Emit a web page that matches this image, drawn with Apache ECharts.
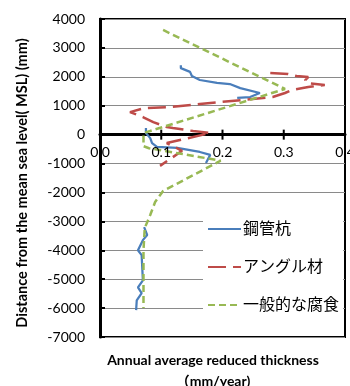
<!DOCTYPE html>
<html><head><meta charset="utf-8">
<script src="https://cdn.jsdelivr.net/npm/echarts@6/dist/echarts.min.js"></script>
<style>html,body{margin:0;padding:0;background:#fff}#c{width:350px;height:386px}</style>
</head><body><div id="c"></div>
<script>
var seriesNames = ['鋼管杭', 'アングル材', '一般的な腐食'];
var xTicks = [0, 0.1, 0.2, 0.3, 0.4];
var yTicks = [-7000, -6000, -5000, -4000, -3000, -2000, -1000, 0, 1000, 2000, 3000, 4000];

// 鋼管杭 (steel pipe pile): thickness (mm/year) and depth (mm); null = gap
var pileThickness = [0.132, 0.132, 0.147, 0.150, 0.163, 0.191, 0.212, 0.229, 0.261, 0.245, 0.224, null,
  0.075, 0.075, 0.082, 0.085, 0.093, 0.126, 0.163, 0.180, 0.173, null,
  0.072, 0.077, 0.070, 0.062, 0.068, 0.070, 0.062, 0.068, 0.060, 0.059];
var pileDepth = [2400, 2300, 2170, 2030, 1890, 1790, 1750, 1610, 1440, 1300, 1270, null,
  230, 55, -120, -290, -420, -460, -600, -700, -980, null,
  -3200, -3470, -3650, -4000, -4170, -5040, -5280, -5480, -5730, -6070];

// アングル材 (angle member)
var angleThickness = [0.278, 0.307, 0.321, 0.340, 0.335, 0.338, 0.367, 0.340, 0.313, 0.302, 0.282, 0.266,
  0.163, 0.114, 0.073, 0.049, 0.070, 0.087, 0.109, 0.119, 0.152, 0.180, 0.109, 0.134, 0.098];
var angleDepth = [2130, 2095, 2028, 1993, 1889, 1785, 1716, 1647, 1543, 1440, 1301, 1266,
  1059, 955, 920, 780, 609, 435, 263, 228, 125, 55, -290, -560, -1080];

// 一般的な腐食 (general corrosion)
var generalThickness = [0.103, 0.302, 0.071, 0.071, 0.080, 0.197, 0.103, 0.090, 0.082, 0.073, 0.071, 0.071];
var generalDepth = [3620, 1580, 55, -400, -470, -900, -1950, -2330, -2780, -3230, -4000, -6000];

function pairs(xs, ys) {
  var out = [];
  for (var i = 0; i < xs.length; i++) {
    out.push(xs[i] == null ? ['-', '-'] : [xs[i], ys[i]]);
  }
  return out;
}

var chart = echarts.init(document.getElementById('c'), null, {renderer: 'canvas'});
var FONT = 'Lato, "Noto Sans CJK JP", sans-serif';
var xMin = xTicks[0], xMax = xTicks[xTicks.length - 1];
var yMin = yTicks[0], yMax = yTicks[yTicks.length - 1];

chart.setOption({
  animation: false,
  backgroundColor: '#fff',
  textStyle: {fontFamily: FONT},
  grid: {left: 100, right: 5, top: 19, bottom: 49, show: true, borderColor: '#000', borderWidth: 2, containLabel: false},
  xAxis: {
    type: 'value', min: xMin, max: xMax, interval: 0.1,
    axisLine: {show: true, onZero: true, lineStyle: {color: '#000', width: 3}},
    axisTick: {show: false},
    axisLabel: {show: false},
    splitLine: {show: false}
  },
  yAxis: {
    type: 'value', min: yMin, max: yMax, interval: 1000,
    axisLine: {show: true, onZero: false, lineStyle: {color: '#000', width: 3}},
    axisTick: {show: true, inside: true, length: 5, lineStyle: {color: '#000', width: 2}},
    axisLabel: {margin: 15, color: '#000', fontSize: 14, fontFamily: FONT,
      formatter: function (v) { return String(v); }},
    splitLine: {show: true, lineStyle: {color: '#8a8a8a', width: 1}}
  },
  legend: {
    orient: 'vertical', left: 203, top: 213,
    backgroundColor: '#fff', padding: [8, 4, 10, 4],
    itemWidth: 33, itemHeight: 14, itemGap: 22,
    itemStyle: {opacity: 0},
    textStyle: {fontSize: 16, color: '#000', fontFamily: FONT, padding: [0, 0, 0, -3]},
    data: seriesNames
  },
  series: [
    {name: seriesNames[0], type: 'line', symbol: 'none', z: 2,
     lineStyle: {color: '#4A7EBB', width: 2.25, type: 'solid'}, itemStyle: {color: '#4A7EBB'},
     data: pairs(pileThickness, pileDepth)},
    {name: seriesNames[1], type: 'line', symbol: 'none', z: 3,
     lineStyle: {color: '#BE4B48', width: 2.5, type: [18, 7]}, itemStyle: {color: '#BE4B48'},
     data: pairs(angleThickness, angleDepth)},
    {name: seriesNames[2], type: 'line', symbol: 'none', z: 4,
     lineStyle: {color: '#98B954', width: 2.5, type: [7, 4]}, itemStyle: {color: '#98B954'},
     data: pairs(generalThickness, generalDepth)}
  ]
});

// titles, and the crossing ticks + labels of the x axis at depth 0
var gfx = [
  {type: 'text', x: 22, y: 183, rotation: Math.PI / 2,
   style: {text: 'Distance from the mean sea level( MSL) (mm)', font: 'bold 14.5px ' + FONT,
     fill: '#000', align: 'center', verticalAlign: 'middle'}},
  {type: 'text', x: 213, y: 360,
   style: {text: 'Annual average reduced thickness', font: 'bold 14px ' + FONT,
     fill: '#000', align: 'center', verticalAlign: 'middle'}},
  {type: 'text', x: 213, y: 381,
   style: {text: '（mm/year)', font: 'bold 14px ' + FONT,
     fill: '#000', align: 'center', verticalAlign: 'middle'}}
];
var y0 = chart.convertToPixel({yAxisIndex: 0}, 0);
for (var i = 0; i < xTicks.length; i++) {
  var px = chart.convertToPixel({xAxisIndex: 0}, xTicks[i]);
  if (i > 0 && i < xTicks.length - 1) {
    gfx.push({type: 'line', z: 100, shape: {x1: px, y1: y0 - 5, x2: px, y2: y0 + 5},
      style: {stroke: '#000', lineWidth: 2}});
  }
  gfx.push({type: 'text', z: 100, x: px, y: y0 + 18,
    style: {text: xTicks[i].toFixed(1), font: '14px ' + FONT, fill: '#000',
      align: 'center', verticalAlign: 'middle'}});
}
chart.setOption({graphic: gfx});
</script></body></html>
